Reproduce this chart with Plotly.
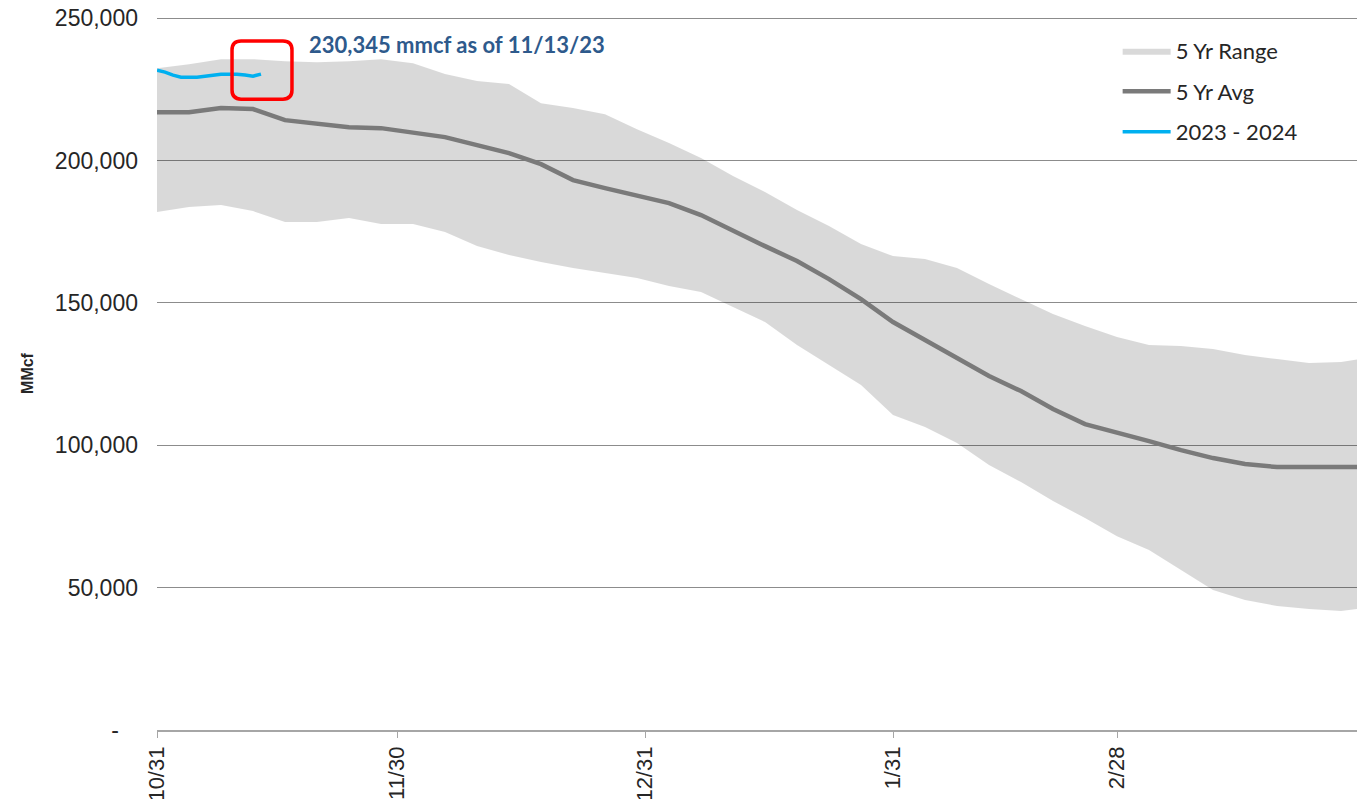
import plotly.graph_objects as go

# ---- data ----
band_dates = [
    "2023-10-31", "2023-11-04", "2023-11-08", "2023-11-12", "2023-11-16", "2023-11-20",
    "2023-11-24", "2023-11-28", "2023-12-02", "2023-12-06", "2023-12-10", "2023-12-14",
    "2023-12-18", "2023-12-22", "2023-12-26", "2023-12-30", "2024-01-03", "2024-01-07",
    "2024-01-11", "2024-01-15", "2024-01-19", "2024-01-23", "2024-01-27", "2024-01-31",
    "2024-02-04", "2024-02-08", "2024-02-12", "2024-02-16", "2024-02-20", "2024-02-24",
    "2024-02-28", "2024-03-03", "2024-03-07", "2024-03-11", "2024-03-15", "2024-03-19",
    "2024-03-23", "2024-03-27", "2024-03-30",
]
range_high = [
    232440, 233850, 235600, 235600, 234900, 234550, 234900, 235600, 234200, 230340,
    227880, 226830, 220150, 218400, 216290, 211020, 206110, 200840, 194520, 188900,
    182580, 176960, 170640, 166430, 165380, 162220, 156600, 151330, 146070, 141850,
    137990, 135180, 134830, 133780, 131670, 130270, 128860, 129210, 130620,
]
range_low = [
    181880, 183640, 184340, 182230, 178370, 178370, 179770, 177670, 177670, 174860,
    169940, 166780, 164320, 162220, 160460, 158710, 155900, 153790, 148520, 143260,
    135180, 128160, 121140, 110600, 106390, 100770, 93050, 87080, 80410, 74440,
    68000, 63200, 56180, 49160, 45650, 43540, 42490, 41780, 42840,
]
avg_5yr = [
    216990, 216990, 218400, 218050, 214180, 213130, 211720, 211370, 209620, 208210,
    205410, 202600, 198730, 193120, 190310, 187850, 185040, 180830, 175210, 169940,
    164680, 158350, 151330, 143260, 136940, 130620, 124300, 119030, 112710, 107440,
    104630, 101470, 98310, 95500, 93400, 92340, 92340, 92340, 92340,
]
cur_dates = [
    "2023-10-31", "2023-11-01", "2023-11-02", "2023-11-03", "2023-11-04", "2023-11-05",
    "2023-11-06", "2023-11-07", "2023-11-08", "2023-11-09", "2023-11-10", "2023-11-11",
    "2023-11-12", "2023-11-13",
]
cur_season = [
    231740, 231040, 230000, 229280, 229280, 229280, 229630, 230000, 230330, 230330,
    230330, 230000, 229630, 230345,
]
x_tick_vals = ["2023-10-31", "2023-11-30", "2023-12-31", "2024-01-31", "2024-02-28", "2024-03-31"]
x_tick_text = ["10/31", "11/30", "12/31", "1/31", "2/28", "3/31"]
y_tick_vals = [0, 50000, 100000, 150000, 200000, 250000]
y_tick_text = ["-\u00a0\u00a0\u00a0", "50,000", "100,000", "150,000", "200,000", "250,000"]

LABEL_FONT = "Liberation Sans, Arial, sans-serif"
LEGEND_FONT = "Lato, Calibri, sans-serif"

fig = go.Figure()
fig.add_trace(go.Scatter(
    x=band_dates, y=range_low, mode="lines", line=dict(width=0),
    showlegend=False, hoverinfo="skip", legendgroup="low",
))
fig.add_trace(go.Scatter(
    x=band_dates, y=range_high, mode="lines", line=dict(width=0),
    fill="tonexty", fillcolor="rgba(0,0,0,0.15)", name="5 Yr Range", legendgroup="range",
))
fig.add_trace(go.Scatter(
    x=band_dates, y=avg_5yr, mode="lines", line=dict(color="#7A7A7A", width=4.5),
    name="5 Yr Avg", legendgroup="avg",
))
fig.add_trace(go.Scatter(
    x=cur_dates, y=cur_season, mode="lines", line=dict(color="#00B0F0", width=3.5),
    name="2023 - 2024", legendgroup="cur",
))

# red rounded box around the latest value (paper coordinates)
x0, x1, y0, y1 = 0.0617, 0.1110, 0.8848, 0.9663
rx, ry = 0.0074, 0.0127
path = (
    f"M {x0+rx},{y1} L {x1-rx},{y1} Q {x1},{y1} {x1},{y1-ry} "
    f"L {x1},{y0+ry} Q {x1},{y0} {x1-rx},{y0} "
    f"L {x0+rx},{y0} Q {x0},{y0} {x0},{y0+ry} "
    f"L {x0},{y1-ry} Q {x0},{y1} {x0+rx},{y1} Z"
)
fig.add_shape(type="path", path=path, xref="paper", yref="paper",
              line=dict(color="#FF0000", width=3.5))

fig.add_annotation(
    text="<b>230,345 mmcf as of 11/13/23</b>", xref="paper", yref="paper",
    x=0.1234, y=0.962, xanchor="left", yanchor="middle", showarrow=False,
    font=dict(family=LEGEND_FONT, size=22, color="#2E5A8C"),
)

fig.update_layout(
    width=1365, height=799,
    margin=dict(l=149, r=0, t=9, b=77),
    paper_bgcolor="white", plot_bgcolor="white",
    showlegend=True,
    legend=dict(
        x=0.79, y=0.982, xanchor="left", yanchor="top",
        font=dict(family=LEGEND_FONT, size=22, color="#262626"),
        traceorder="grouped", tracegroupgap=9, itemwidth=48,
        bgcolor="rgba(0,0,0,0)",
    ),
    xaxis=dict(
        type="date", range=["2023-10-31", "2024-03-31"], automargin=False,
        tickmode="array", tickvals=x_tick_vals, ticktext=x_tick_text,
        tickangle=-90, ticks="outside", ticklen=6, tickcolor="#A6A6A6",
        showline=True, linecolor="#A6A6A6", linewidth=1.5,
        showgrid=False, zeroline=False, ticklabeloverflow="allow",
        tickfont=dict(family=LABEL_FONT, size=22, color="#262626"),
    ),
    yaxis=dict(
        range=[0, 250400], tickmode="array", tickvals=y_tick_vals, ticktext=y_tick_text,
        automargin=False, ticklabeloverflow="allow",
        showgrid=True, gridcolor="#8C8C8C", gridwidth=1, zeroline=False,
        showline=False, ticks="", ticklabelstandoff=18,
        tickfont=dict(family=LABEL_FONT, size=23, color="#262626"),
        title=dict(text="<b>MMcf</b>", standoff=17,
                   font=dict(family=LABEL_FONT, size=16, color="#262626")),
    ),
)

fig.write_html("out.html")
